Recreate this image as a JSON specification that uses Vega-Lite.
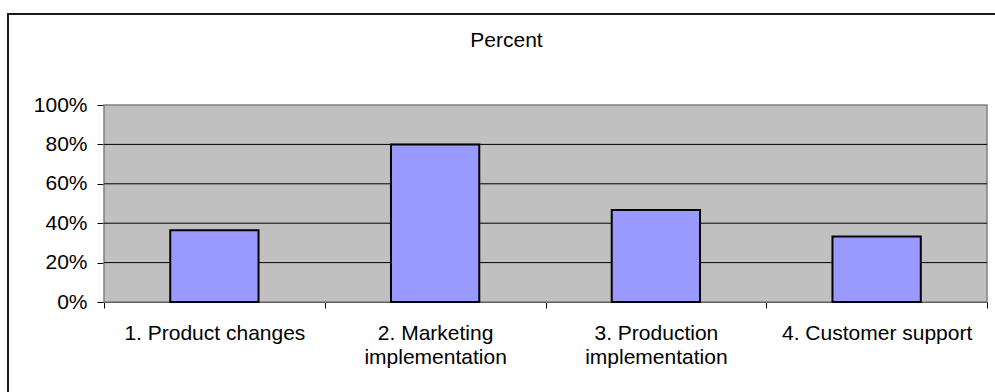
{
  "$schema": "https://vega.github.io/schema/vega-lite/v6.json",
  "autosize": {"type": "none"},
  "padding": {"left": 8, "top": 14, "right": 0, "bottom": 0},
  "width": 987,
  "height": 378,
  "background": "white",
  "title": {"text": "Percent", "fontSize": 21, "fontWeight": "normal", "font": "Liberation Sans", "color": "black", "offset": -37, "dx": 5, "anchor": "middle", "frame": "group"},
  "config": {
    "font": "Liberation Sans",
    "view": {"stroke": "#1a1a1a", "strokeWidth": 2, "strokeDash": [987, 1365, 378]}
  },
  "datasets": {
    "bars": [
      {"category": "1. Product changes", "value": 0.364},
      {"category": "2. Marketing implementation", "value": 0.8},
      {"category": "3. Production implementation", "value": 0.467},
      {"category": "4. Customer support", "value": 0.333}
    ],
    "grid": [
      {"level": 0.2}, {"level": 0.4}, {"level": 0.6}, {"level": 0.8}
    ]
  },
  "layer": [
    {
      "layer": [
        {
          "data": {"values": [{"a": 0}]},
          "mark": {"type": "rect", "fill": "#C0C0C0", "stroke": "#808080", "strokeWidth": 1.5},
          "encoding": {
            "x": {"datum": 0, "type": "quantitative", "scale": {"domain": [0, 1], "range": [96, 979]}, "axis": null},
            "x2": {"datum": 1},
            "y": {
              "datum": 0, "type": "quantitative", "scale": {"domain": [0, 1], "range": [288, 91]},
              "axis": {
                "orient": "left", "offset": -96, "title": null, "grid": false,
                "values": [0, 0.2, 0.4, 0.6, 0.8, 1], "format": ".0%",
                "tickSize": 7, "tickColor": "black", "domainColor": "black", "domainWidth": 1,
                "labelFontSize": 21, "labelColor": "black", "labelPadding": 10
              }
            },
            "y2": {"datum": 1}
          }
        },
        {
          "data": {"name": "grid"},
          "mark": {"type": "rule", "stroke": "black", "strokeWidth": 1},
          "encoding": {
            "x": {"datum": 0, "type": "quantitative", "scale": {"domain": [0, 1], "range": [96, 979]}, "axis": null},
            "x2": {"datum": 1},
            "y": {"field": "level", "type": "quantitative", "scale": {"domain": [0, 1], "range": [288, 91]}}
          }
        }
      ]
    },
    {
      "data": {"name": "bars"},
      "mark": {"type": "bar", "width": {"band": 0.4}, "fill": "#9999FF", "stroke": "black", "strokeWidth": 2},
      "encoding": {
        "x": {
          "field": "category", "type": "nominal", "sort": null,
          "scale": {"range": [96, 979], "paddingInner": 0, "paddingOuter": 0},
          "axis": {
            "orient": "bottom", "offset": -90, "title": null, "labelAngle": 0,
            "tickBand": "extent", "tickSize": 6, "tickColor": "black", "domainColor": "black", "domainWidth": 1,
            "labelFontSize": 21, "labelColor": "black", "labelPadding": 14, "labelLineHeight": 24, "labelLimit": 0,
            "labelExpr": "length(datum.label) > 20 ? [slice(datum.label, 0, lastindexof(datum.label, ' ')), slice(datum.label, lastindexof(datum.label, ' ') + 1)] : datum.label"
          }
        },
        "y": {
          "field": "value", "type": "quantitative",
          "scale": {"domain": [0, 1], "range": [288, 91]},
          "axis": {
            "orient": "left", "offset": -96, "title": null, "grid": false,
            "values": [0, 0.2, 0.4, 0.6, 0.8, 1], "format": ".0%",
            "tickSize": 7, "tickColor": "black", "domainColor": "black", "domainWidth": 1,
            "labelFontSize": 21, "labelColor": "black", "labelPadding": 10
          }
        }
      }
    }
  ],
  "resolve": {"scale": {"x": "independent"}, "axis": {"x": "independent"}}
}
